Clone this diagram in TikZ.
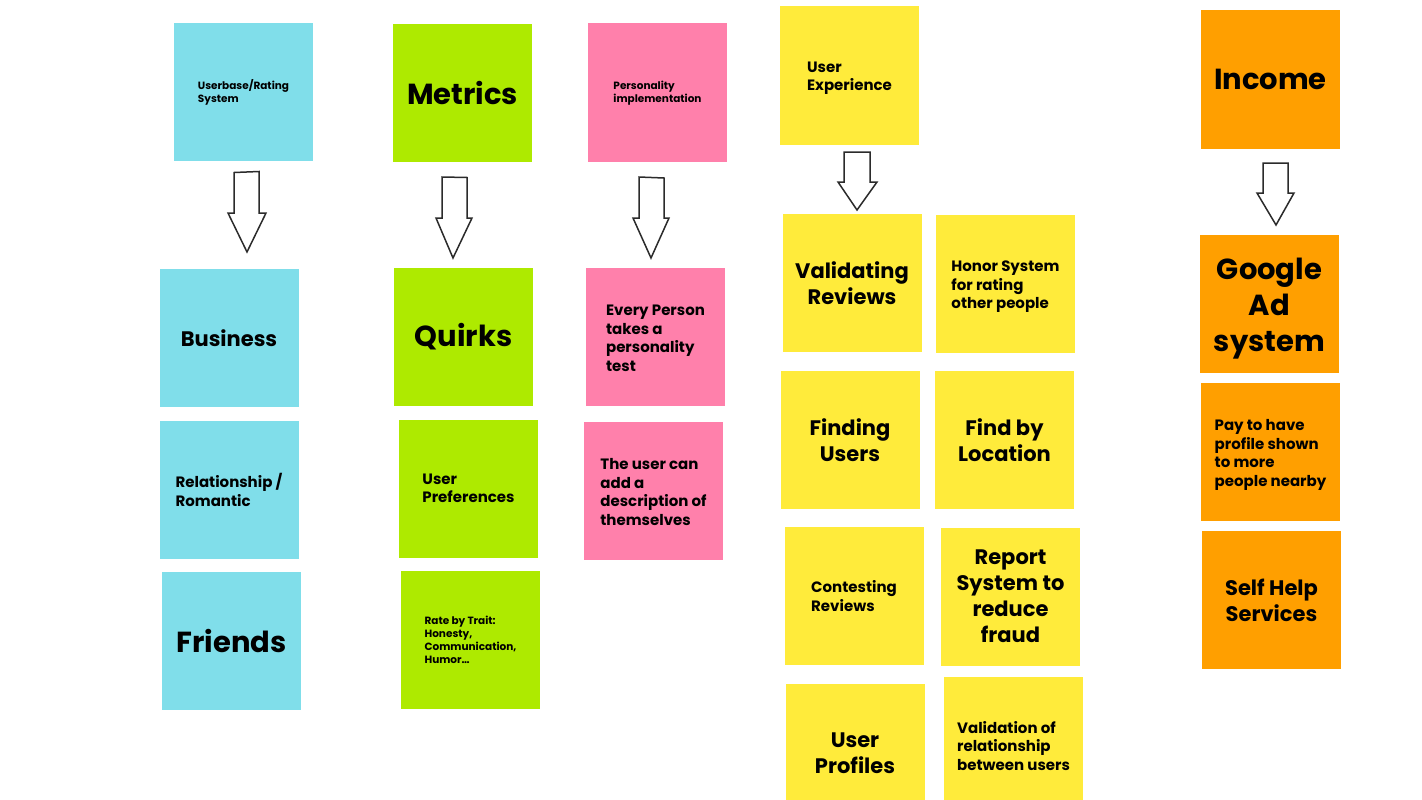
\documentclass[tikz,border=0pt]{standalone}
\usepackage{fontspec}
\setmainfont{Poppins}
\definecolor{cyanc}{HTML}{80DEEA}
\definecolor{limec}{HTML}{AEEA00}
\definecolor{pinkc}{HTML}{FF80AB}
\definecolor{yelc}{HTML}{FFEB3B}
\definecolor{orc}{HTML}{FF9F00}
\definecolor{arrowc}{HTML}{2B2B2B}
\newcommand{\topstrut}[1]{\rule{0pt}{#1}}
\tikzset{
  note/.style={minimum width=139pt, minimum height=138pt, inner sep=0pt, text=black},
  sm/.style={font=\bfseries\fontsize{10.5}{13}\selectfont, align=left},
  md/.style={font=\bfseries\fontsize{15}{18.5}\selectfont, align=left},
  lg/.style={font=\bfseries\fontsize{21}{26}\selectfont, align=center},
  hg/.style={font=\bfseries\fontsize{29}{36}\selectfont, align=center},
  blockarrow/.style={draw=arrowc, line width=1.5pt, fill=white, line join=miter},
}
\begin{document}
\begin{tikzpicture}[x=1pt, y=-1pt]
\useasboundingbox (0,0) rectangle (1422,800);
\clip (0,0) rectangle (1422,800);
% column 1
\node[note, fill=cyanc, sm] (ub) at (243.5,92) {\topstrut{10pt}Userbase/Rating\\System};
\node[note, fill=cyanc, lg] (bus) at (229,338) {Business};
\node[note, fill=cyanc, md] (rel) at (229,490) {Relationship /\\Romantic};
\node[note, fill=cyanc, hg] (fr) at (231.5,641) {Friends};
% column 2
\node[note, fill=limec, hg] (met) at (462.5,93) {Metrics};
\node[note, fill=limec, hg] (qu) at (463.5,336.5) {Quirks};
\node[note, fill=limec, md] (up) at (468.5,488.5) {User\\Preferences};
\node[note, fill=limec, sm] (rt) at (470.5,640) {Rate by Trait:\\Honesty,\\Communication,\\Humor…};
% column 3
\node[note, fill=pinkc, sm] (pi) at (657.5,92.5) {\topstrut{10pt}Personality\\implementation};
\node[note, fill=pinkc, md] (ep) at (655.5,337) {\topstrut{13.5pt}Every Person\\takes a\\personality\\test};
\node[note, fill=pinkc, md] (tu) at (653.5,491) {\topstrut{13pt}The user can\\add a\\description of\\themselves};
% column 4
\node[note, fill=yelc, md] (ux) at (849.5,75.5) {\topstrut{15.5pt}User\\Experience};
\node[note, fill=yelc, lg] (vr) at (852,283) {Validating\\Reviews};
\node[note, fill=yelc, md] (hs) at (1005.5,284) {\topstrut{16.5pt}Honor System\\for rating\\other people};
\node[note, fill=yelc, lg] (fu) at (850,440) {Finding\\Users};
\node[note, fill=yelc, lg] (fl) at (1004.5,440) {Find by\\Location};
\node[note, fill=yelc, md] (cr) at (854,596) {Contesting\\Reviews};
\node[note, fill=yelc, lg] (rs) at (1010.5,596.5) {Report\\System to\\reduce\\fraud};
\node[note, fill=yelc, lg] (pr) at (855,753) {User\\Profiles};
\node[note, fill=yelc, md] (vu) at (1013.5,746) {Validation of\\relationship\\between users};
% column 5
\node[note, fill=orc, hg] (inc) at (1270.5,79.5) {Income};
\node[note, fill=orc, hg] (gad) at (1269.5,304) {\topstrut{30pt}Google\\Ad\\system};
\node[note, fill=orc, md] (pay) at (1270.5,452) {\topstrut{17pt}Pay to have\\profile shown\\to more\\people nearby};
\node[note, fill=orc, lg] (shs) at (1271.5,600) {Self Help\\Services};
% block arrows
\draw[blockarrow] (234,172.5) -- (259,171.5) -- (259,213) -- (266,213) -- (247,252) -- (228,213) -- (234,213) -- cycle;
\draw[blockarrow] (442,177) -- (467,177.5) -- (467,218) -- (472,218) -- (453,258) -- (436,218) -- (442,218) -- cycle;
\draw[blockarrow] (639,177) -- (664,178) -- (664,218) -- (669,218) -- (651,258) -- (633,218) -- (639,218) -- cycle;
\draw[blockarrow] (844,152) -- (870,152) -- (870,182) -- (877,182) -- (857,210) -- (838,182) -- (844,182) -- cycle;
\draw[blockarrow] (1263,163) -- (1288,163) -- (1288,193) -- (1294,193) -- (1276,225) -- (1257,193) -- (1263,193) -- cycle;
\end{tikzpicture}
\end{document}
